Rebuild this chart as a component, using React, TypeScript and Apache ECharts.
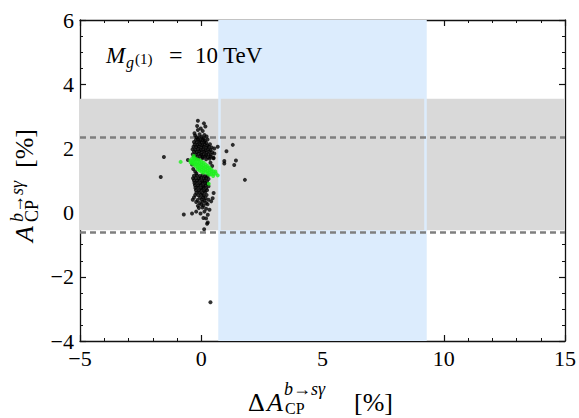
import React, { useEffect, useRef } from "react";
import * as echarts from "echarts";

// Axis ranges and ticks
const xRange = [-5, 15];
const yRange = [-4, 6];
const xStep = 5;
const yStep = 2;

// Allowed regions and bounds
const deltaBand = [0.75, 9.24]; // ΔA_CP window (blue)
const acpBand = [-0.55, 3.55]; // A_CP window (grey)
const acpBounds = [2.35, -0.6]; // dashed limits

// Full parameter scan (black)
const scanPoints: number[][] = [
  [-0.14, 2.86], [0.11, 2.78], [-0.17, 2.7], [0.17, 2.68], [-0.02, 2.62], [-0.14, 2.57], [0.06, 2.54],
  [-0.28, 2.47], [-0.07, 2.44], [0.13, 2.42], [-0.25, 2.4], [0.22, 2.37],
  [-0.19, 2.35], [-0.1, 2.33], [0.01, 2.36], [0.09, 2.31], [-0.22, 2.27], [-0.14, 2.29], [-0.04, 2.25],
  [0.05, 2.27], [0.15, 2.24], [0.26, 2.28],
  [-0.3, 2.2], [-0.18, 2.19], [-0.08, 2.21], [0.02, 2.18], [0.12, 2.2], [0.21, 2.17],
  [-0.27, 2.12], [-0.16, 2.11], [-0.05, 2.13], [0.04, 2.1], [0.14, 2.12], [0.25, 2.09], [0.36, 2.13],
  [-0.32, 2.05], [-0.21, 2.04], [-0.1, 2.06], [0.0, 2.03], [0.1, 2.05], [0.2, 2.02], [0.31, 2.05], [0.43, 2.03],
  [-0.36, 1.97], [-0.24, 1.96], [-0.13, 1.98], [-0.02, 1.95], [0.08, 1.97], [0.18, 1.94], [0.28, 1.97], [0.38, 1.95],
  [-0.3, 1.9], [-0.19, 1.89], [-0.08, 1.91], [0.02, 1.88], [0.12, 1.9], [0.22, 1.87], [0.33, 1.9], [0.45, 1.88],
  [-0.35, 1.82], [-0.23, 1.81], [-0.11, 1.83], [0.0, 1.8], [0.1, 1.82], [0.2, 1.79], [0.3, 1.82], [0.4, 1.8],
  [-0.31, 1.75], [-0.17, 1.74], [-0.04, 1.76], [0.06, 1.73], [0.16, 1.75], [0.28, 1.72], [0.38, 1.74], [0.5, 1.71],
  [-0.26, 1.68], [-0.11, 1.67], [0.05, 1.69], [0.2, 1.66], [0.35, 1.68], [0.51, 1.69],
  [-0.38, 1.5], [-0.33, 1.36], [-0.25, 1.28], [0.38, 1.55], [0.45, 1.45], [-0.2, 1.22],
  [-0.3, 1.15], [-0.18, 1.16], [-0.06, 1.14], [0.06, 1.17], [0.16, 1.13], [0.26, 1.15],
  [-0.34, 1.07], [-0.22, 1.08], [-0.1, 1.06], [0.0, 1.09], [0.1, 1.06], [0.2, 1.08], [0.3, 1.05],
  [-0.3, 1.0], [-0.18, 0.99], [-0.06, 1.01], [0.04, 0.98], [0.14, 1.0], [0.24, 0.97],
  [-0.28, 0.92], [-0.16, 0.93], [-0.04, 0.91], [0.06, 0.94], [0.16, 0.92], [0.27, 0.9],
  [-0.26, 0.85], [-0.14, 0.84], [-0.02, 0.86], [0.08, 0.83], [0.18, 0.85], [0.3, 0.82],
  [-0.24, 0.77], [-0.12, 0.78], [0.0, 0.76], [0.1, 0.79], [0.2, 0.76],
  [-0.22, 0.7], [-0.1, 0.69], [0.02, 0.71], [0.12, 0.68], [0.24, 0.7],
  [-0.2, 0.62], [-0.08, 0.63], [0.04, 0.61], [0.16, 0.64], [0.51, 0.61],
  [-0.25, 0.55], [-0.12, 0.54], [0.0, 0.56], [0.1, 0.53], [0.22, 0.55],
  [-0.3, 0.47], [-0.05, 0.46], [0.08, 0.48], [0.18, 0.45], [0.47, 0.45],
  [-0.35, 0.4], [-0.15, 0.39], [0.02, 0.41], [0.14, 0.38], [0.3, 0.4],
  [-0.21, 0.33], [-0.07, 0.3], [0.06, 0.34], [0.2, 0.3], [0.41, 0.35],
  [-0.14, 0.21], [0.0, 0.25], [0.1, 0.22], [0.26, 0.26],
  [-0.1, 0.14], [0.05, 0.16], [0.2, 0.12], [0.34, 0.09],
  [-0.21, 0.03], [0.13, 0.03],
  [-0.72, -0.06], [-0.38, -0.03], [-0.03, -0.03], [0.27, -0.07], [0.09, -0.17], [0.2, -0.18],
  [0.27, -0.31], [0.24, -0.35], [0.12, -0.52],
  [-1.67, 1.11], [-1.54, 1.73], [-0.55, 1.64], [0.54, 1.84], [0.68, 2.05], [0.54, 2.0],
  [0.95, 1.61], [0.95, 1.53], [1.04, 1.91], [1.3, 2.11], [1.36, 1.48], [1.43, 1.62], [1.8, 1.02],
  [0.38, -2.79],
];

// Points passing all constraints (green)
const passPoints: number[][] = [
  [-0.45, 1.62], [-0.44, 1.57],
  [-0.38, 1.68], [-0.37, 1.6], [-0.39, 1.53],
  [-0.3, 1.7], [-0.31, 1.63], [-0.29, 1.55], [-0.3, 1.49],
  [-0.22, 1.67], [-0.23, 1.58], [-0.21, 1.51], [-0.22, 1.44],
  [-0.14, 1.65], [-0.15, 1.57], [-0.13, 1.49], [-0.14, 1.41], [-0.15, 1.35],
  [-0.06, 1.62], [-0.07, 1.54], [-0.05, 1.46], [-0.06, 1.38], [-0.07, 1.31],
  [0.02, 1.58], [0.01, 1.5], [0.03, 1.42], [0.02, 1.34], [0.01, 1.27],
  [0.1, 1.55], [0.09, 1.47], [0.11, 1.39], [0.1, 1.31], [0.09, 1.24],
  [0.18, 1.5], [0.19, 1.42], [0.17, 1.34], [0.18, 1.27],
  [0.26, 1.45], [0.27, 1.38], [0.25, 1.3], [0.26, 1.22],
  [0.34, 1.4], [0.35, 1.33], [0.33, 1.25], [0.34, 1.18],
  [0.42, 1.34], [0.43, 1.27], [0.41, 1.2],
  [0.5, 1.28], [0.51, 1.2], [0.49, 1.14],
  [-0.85, 1.58], [-0.31, 1.76], [0.31, 0.9], [0.68, 1.16], [0.58, 1.28], [0.6, 1.22],
];

const SERIF = "Liberation Serif, DejaVu Serif, serif";

const fmt = (v: number) => (v < 0 ? "\u2212" + Math.abs(v) : String(v));

function label(
  text: string,
  x: number,
  y: number,
  size: number,
  italic = false,
  rotation = 0
) {
  return {
    type: "text",
    x,
    y,
    rotation,
    silent: true,
    z: 100,
    style: {
      text,
      fill: "#000",
      fontSize: size,
      fontFamily: SERIF,
      fontStyle: italic ? "italic" : "normal",
      align: "left",
      verticalAlign: "middle",
    },
  };
}

function arrowLabel(x: number, y: number, size: number, rotation = 0) {
  const base = { fontSize: size, fontFamily: SERIF, fill: "#000" };
  return {
    type: "text",
    x,
    y,
    rotation,
    silent: true,
    z: 100,
    style: {
      text: "{i|b}{n|\u2192}{i|s\u03b3}",
      align: "left",
      verticalAlign: "middle",
      fill: "#000",
      fontSize: size,
      fontFamily: SERIF,
      rich: {
        i: { ...base, fontStyle: "italic" },
        n: { ...base, fontStyle: "normal" },
      },
    },
  };
}

export default function App() {
  const ref = useRef<HTMLDivElement>(null);

  useEffect(() => {
    if (!ref.current) return;
    const chart = echarts.init(ref.current, undefined, { renderer: "svg" });

    const axisCommon = {
      type: "value",
      splitLine: { show: false },
      axisLine: { show: true, onZero: false, lineStyle: { color: "#111", width: 1.3 } },
      axisTick: { show: true, inside: true, length: 6, lineStyle: { color: "#111", width: 1.2 } },
      minorTick: { show: true, length: 3, lineStyle: { color: "#111", width: 1 } },
      minorSplitLine: { show: false },
    };
    const labelStyle = {
      color: "#000",
      fontSize: 22,
      fontFamily: SERIF,
      formatter: fmt,
    };

    const R = Math.PI / 2;

    chart.setOption({
      animation: false,
      backgroundColor: "#fff",
      grid: { left: 80, top: 20, right: 12, bottom: 77 },
      xAxis: [
        {
          ...axisCommon,
          position: "bottom",
          min: xRange[0],
          max: xRange[1],
          interval: xStep,
          minorTick: { ...axisCommon.minorTick, splitNumber: 5 },
          axisLabel: { ...labelStyle, margin: 6 },
        },
        {
          ...axisCommon,
          position: "top",
          min: xRange[0],
          max: xRange[1],
          interval: xStep,
          minorTick: { ...axisCommon.minorTick, splitNumber: 5 },
          axisLabel: { show: false },
        },
      ],
      yAxis: [
        {
          ...axisCommon,
          position: "left",
          min: yRange[0],
          max: yRange[1],
          interval: yStep,
          minorTick: { ...axisCommon.minorTick, splitNumber: 4 },
          axisLabel: { ...labelStyle, margin: 6 },
        },
        {
          ...axisCommon,
          position: "right",
          min: yRange[0],
          max: yRange[1],
          interval: yStep,
          minorTick: { ...axisCommon.minorTick, splitNumber: 4 },
          axisLabel: { show: false },
        },
      ],
      graphic: [
        // Panel note
        label("M", 106, 55, 23, true),
        label("g", 126, 62, 16, true),
        label("(1)", 135, 59, 15),
        label("=", 169, 55, 24),
        label("10", 195, 55, 23),
        label("TeV", 223, 55, 23),
        // x-axis title
        label("\u0394", 248, 402, 26),
        label("A", 267, 402, 26, true),
        arrowLabel(284, 389, 18),
        label("CP", 285, 408, 16),
        label("[%]", 354, 402, 26),
        // y-axis title (rotated)
        label("A", 24, 242, 26, true, R),
        arrowLabel(17, 222, 18, R),
        label("CP", 32, 222, 18, false, R),
        label("[%]", 24, 168, 26, false, R),
      ],
      series: [
        {
          type: "scatter",
          data: [],
          xAxisIndex: 0,
          yAxisIndex: 0,
          silent: true,
          markArea: {
            silent: true,
            z: 1,
            itemStyle: { color: "#dcecfd" },
            data: [[{ xAxis: deltaBand[0] }, { xAxis: deltaBand[1] }]],
          },
        },
        {
          type: "scatter",
          data: [],
          xAxisIndex: 0,
          yAxisIndex: 0,
          silent: true,
          markArea: {
            silent: true,
            z: 2,
            itemStyle: { color: "#d9d9d9" },
            data: [[{ yAxis: acpBand[0] }, { yAxis: acpBand[1] }]],
          },
        },
        {
          type: "scatter",
          data: [],
          xAxisIndex: 0,
          yAxisIndex: 0,
          silent: true,
          markLine: {
            silent: true,
            z: 2.5,
            symbol: "none",
            label: { show: false },
            lineStyle: { color: "#dcecfd", width: 2.5, type: "solid" },
            data: deltaBand.map((v) => ({ xAxis: v })),
          },
        },
        {
          type: "scatter",
          data: [],
          xAxisIndex: 0,
          yAxisIndex: 0,
          silent: true,
          markLine: {
            silent: true,
            z: 3,
            symbol: "none",
            label: { show: false },
            lineStyle: { color: "#7f7f7f", width: 2.6, type: [6, 4] },
            data: acpBounds.map((v) => ({ yAxis: v })),
          },
        },
        {
          type: "scatter",
          name: "scan",
          z: 4,
          xAxisIndex: 0,
          yAxisIndex: 0,
          symbolSize: 4,
          itemStyle: { color: "#000" },
          data: scanPoints,
        },
        {
          type: "scatter",
          name: "allowed",
          z: 5,
          xAxisIndex: 0,
          yAxisIndex: 0,
          symbolSize: 4,
          itemStyle: { color: "#1ef01e" },
          data: passPoints,
        },
      ],
    });

    return () => chart.dispose();
  }, []);

  return <div ref={ref} style={{ width: 579, height: 418, position: "fixed", left: 0, top: 0 }} />;
}
